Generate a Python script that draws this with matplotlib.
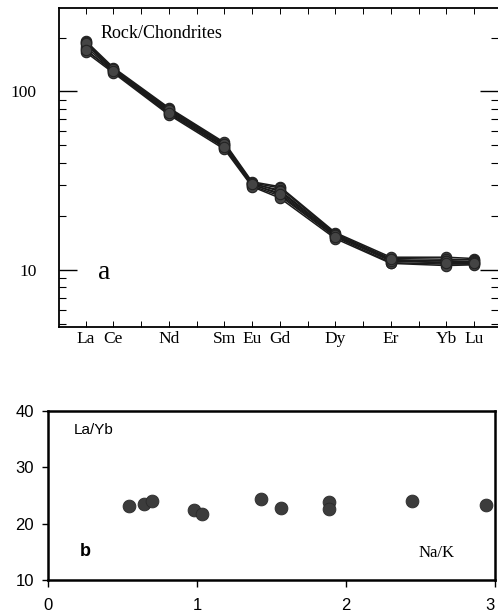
import matplotlib
matplotlib.use("Agg")
import matplotlib.pyplot as plt
from matplotlib.ticker import LogLocator, NullFormatter, FixedLocator

# ---------------- data ----------------
elements = ["La", "Ce", "Pr", "Nd", "Pm", "Sm", "Eu", "Gd", "Tb", "Dy", "Ho", "Er", "Tm", "Yb", "Lu"]
labelled = ["La", "Ce", "Nd", "Sm", "Eu", "Gd", "Dy", "Er", "Yb", "Lu"]
plotted = ["La", "Ce", "Nd", "Sm", "Eu", "Gd", "Dy", "Er", "Yb", "Lu"]

# Rock/Chondrite normalised patterns (one row per sample, columns follow `plotted`)
sample1 = [192, 136, 81, 51.8, 31.2, 29.3, 16.2, 11.8, 11.8, 11.6]
sample2 = [188, 134, 80, 51.0, 30.8, 28.8, 16.0, 11.6, 11.5, 11.4]
sample3 = [184, 132, 78, 50.3, 30.4, 28.0, 15.8, 11.4, 11.2, 11.2]
sample4 = [178, 131, 77, 49.5, 30.0, 27.0, 15.6, 11.2, 11.0, 11.0]
sample5 = [172, 129, 75, 48.5, 29.6, 26.0, 15.3, 11.0, 10.8, 10.8]
sample6 = [166, 127, 74, 47.5, 29.3, 25.3, 15.0, 10.9, 10.6, 10.7]
sample7 = [186, 133, 79, 50.8, 30.6, 27.6, 15.7, 11.3, 11.3, 11.1]
sample8 = [170, 130, 76, 49.0, 30.2, 26.5, 15.4, 11.5, 10.9, 10.9]
samples = [sample1, sample2, sample3, sample4, sample5, sample6, sample7, sample8]

# Panel b: La/Yb versus Na/K
na_k = [0.546, 0.644, 0.696, 0.98, 1.036, 1.43, 1.562, 1.888, 1.888, 2.441, 2.937]
la_yb = [23.2, 23.5, 24.1, 22.4, 21.8, 24.3, 22.8, 23.8, 22.6, 24.0, 23.3]

# ---------------- figure ----------------
W, H = 498, 613
fig = plt.figure(figsize=(W / 100, H / 100), dpi=100)

serif = ["Liberation Serif", "DejaVu Serif"]
sans = ["Liberation Sans", "DejaVu Sans"]

# ---- panel a ----
axa = fig.add_axes([59 / W, 1 - 327 / H, 1 - 59 / W, (327 - 7.5) / H])
xpos = {e: i + 1 for i, e in enumerate(elements)}
xs = [xpos[e] for e in plotted]
for s in samples:
    axa.plot(xs, s, color="#1a1a1a", lw=1.1, marker="o", ms=7.5,
             mfc="#444444", mec="#222222", mew=0.8, zorder=3)
axa.set_yscale("log")
axa.set_ylim(4.8, 295)
axa.set_xlim(0.04, 15.86)

axa.yaxis.set_major_locator(FixedLocator([10, 100]))
axa.yaxis.set_minor_locator(LogLocator(base=10, subs=range(2, 10)))
axa.yaxis.set_minor_formatter(NullFormatter())
axa.set_yticklabels(["10", "100"], fontfamily=serif, fontsize=12.5)
axa.set_xticks([xpos[e] for e in elements])
axa.set_xticklabels([e if e in labelled else "" for e in elements],
                    fontfamily=serif, fontsize=12.5)
axa.tick_params(axis="y", which="major", direction="in", length=13, width=1.0,
                pad=16, left=True, right=True)
axa.tick_params(axis="y", which="minor", direction="in", length=5, width=0.8,
                left=True, right=True)
axa.tick_params(axis="x", which="major", direction="in", length=4, width=0.7,
                pad=3, top=True, bottom=True)
axa.spines["right"].set_visible(False)
for sp in ["left", "top", "bottom"]:
    axa.spines[sp].set_linewidth(1.3)

fig.text(101 / W, 1 - 33 / H, "Rock/Chondrites", fontsize=13,
         fontfamily=serif, va="center", ha="left")
axa.text(0.088, 0.17, "a", transform=axa.transAxes, fontsize=20,
         fontfamily=serif, va="center", ha="left")

# ---- panel b ----
axb = fig.add_axes([48 / W, 1 - 580 / H, (495 - 48) / W, (580 - 411) / H])
axb.scatter(na_k, la_yb, s=85, color="#3c3c3c", edgecolor="#2a2a2a",
            linewidth=0.6, zorder=3)
axb.set_xlim(0, 3)
axb.set_ylim(10, 40)
axb.set_xticks([0, 1, 2, 3])
axb.set_yticks([10, 20, 30, 40])
axb.set_xticklabels(["0", "1", "2", "3"], fontfamily=sans, fontsize=12)
axb.set_yticklabels(["10", "20", "30", "40"], fontfamily=sans, fontsize=12)
axb.get_xticklabels()[-1].set_horizontalalignment("right")
axb.tick_params(axis="y", direction="out", length=4, width=1.0, pad=6)
axb.tick_params(axis="x", direction="out", length=5, width=1.0, pad=8)
for sp in axb.spines.values():
    sp.set_linewidth(1.8)

axb.text(0.058, 0.89, "La/Yb", transform=axb.transAxes, fontsize=11,
         fontfamily=sans, va="center", ha="left")
axb.text(0.071, 0.17, "b", transform=axb.transAxes, fontsize=13,
         fontweight="bold", fontfamily=sans, va="center", ha="left")
axb.text(0.83, 0.16, "Na/K", transform=axb.transAxes, fontsize=12,
         fontfamily=serif, va="center", ha="left")

fig.savefig("out.png", dpi=100)
